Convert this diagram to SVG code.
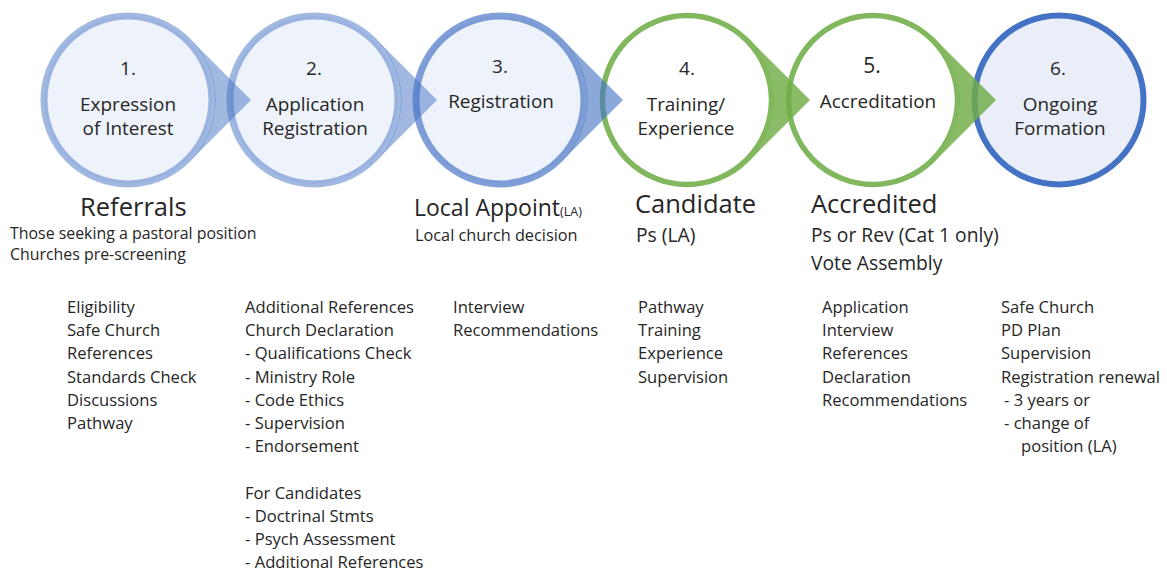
<svg xmlns="http://www.w3.org/2000/svg" width="1167" height="572" viewBox="0 0 1167 572">
<style>
text{font-family:"Open Sans","Noto Sans","Liberation Sans",sans-serif;fill:#262626}
.c{text-anchor:middle;font-size:18.9px}
.num{text-anchor:middle;font-size:19px}
.big{font-size:25.5px}
.sub{font-size:15.9px}
.sub2{font-size:19.3px}
.li{font-size:16.6px}
.ring1{fill:#eef2fa;stroke:#4472c4;stroke-opacity:0.5;stroke-width:7}
.ring3{fill:#eef2fa;stroke:#4472c4;stroke-opacity:0.68;stroke-width:7}
.ringg{fill:#ffffff;stroke:#70ad47;stroke-opacity:0.88;stroke-width:5.5}
.ring6{fill:#e9eef8;stroke:#4472c4;stroke-width:6}
.ab{fill:#4472c4;fill-opacity:0.5}
.ab3{fill:#4472c4;fill-opacity:0.62}
.ag{fill:#70ad47;fill-opacity:0.82}
</style>
<g id="node1">
<circle class="ring1" cx="128" cy="100" r="84"/>
<text class="num" x="128" y="75">1.</text>
<text class="c" x="128" y="111">Expression</text>
<text class="c" x="128" y="135">of Interest</text>
</g>
<g id="node2">
<circle class="ring1" cx="314" cy="100" r="84"/>
<text class="num" x="314" y="75">2.</text>
<text class="c" x="315" y="111">Application</text>
<text class="c" x="315" y="135">Registration</text>
</g>
<g id="node3">
<circle class="ring3" cx="500" cy="100" r="84"/>
<text class="num" x="500" y="73">3.</text>
<text class="c" x="501" y="108">Registration</text>
</g>
<g id="node4">
<circle class="ringg" cx="687" cy="100" r="84.5"/>
<text class="num" x="687" y="75">4.</text>
<text class="c" x="686" y="111">Training/</text>
<text class="c" x="686" y="135">Experience</text>
</g>
<g id="node5">
<circle class="ringg" cx="873" cy="100" r="84.5"/>
<text class="num" x="872" y="73" style="font-size:21px">5.</text>
<text class="c" x="878" y="108">Accreditation</text>
</g>
<g id="node6">
<circle class="ring6" cx="1059" cy="100" r="84.5"/>
<text class="num" x="1058" y="75">6.</text>
<text class="c" x="1060" y="111">Ongoing</text>
<text class="c" x="1060" y="135">Formation</text>
</g>
<g id="connectors">
<path class="ab" d="M189.5,38.5 L251,100 L189.5,161.5 A87,87 0 0 0 189.5,38.5 Z"/>
<path class="ab" d="M375.5,38.5 L437,100 L375.5,161.5 A87,87 0 0 0 375.5,38.5 Z"/>
<path class="ab3" d="M561.5,38.5 L623,100 L561.5,161.5 A87,87 0 0 0 561.5,38.5 Z"/>
<path class="ag" d="M748.5,38.5 L810,100 L748.5,161.5 A87,87 0 0 0 748.5,38.5 Z"/>
<path class="ag" d="M934.5,38.5 L996,100 L934.5,161.5 A87,87 0 0 0 934.5,38.5 Z"/>
</g>
<g id="col1">
<text class="big" x="80" y="216">Referrals</text>
<text class="sub" x="10" y="239">Those seeking a pastoral position</text>
<text class="sub" x="10" y="260">Churches pre-screening</text>
<text class="li" x="67" y="313">Eligibility</text>
<text class="li" x="67" y="336">Safe Church</text>
<text class="li" x="67" y="359">References</text>
<text class="li" x="67" y="383">Standards Check</text>
<text class="li" x="67" y="406">Discussions</text>
<text class="li" x="67" y="429">Pathway</text>
</g>
<g id="col2">
<text class="li" x="245" y="313">Additional References</text>
<text class="li" x="245" y="336">Church Declaration</text>
<text class="li" x="245" y="359">- Qualifications Check</text>
<text class="li" x="245" y="383">- Ministry Role</text>
<text class="li" x="245" y="406">- Code Ethics</text>
<text class="li" x="245" y="429">- Supervision</text>
<text class="li" x="245" y="452">- Endorsement</text>
<text class="li" x="245" y="499">For Candidates</text>
<text class="li" x="245" y="522">- Doctrinal Stmts</text>
<text class="li" x="245" y="545">- Psych Assessment</text>
<text class="li" x="245" y="568">- Additional References</text>
</g>
<g id="col3">
<text class="big" x="414" y="216" style="font-size:23px">Local Appoint<tspan style="font-size:12.5px">(LA)</tspan></text>
<text class="sub" x="415" y="241" style="font-size:16.3px">Local church decision</text>
<text class="li" x="453" y="313">Interview</text>
<text class="li" x="453" y="336">Recommendations</text>
</g>
<g id="col4">
<text class="big" x="635" y="213">Candidate</text>
<text class="sub2" x="636" y="242">Ps (LA)</text>
<text class="li" x="638" y="313">Pathway</text>
<text class="li" x="638" y="336">Training</text>
<text class="li" x="638" y="359">Experience</text>
<text class="li" x="638" y="383">Supervision</text>
</g>
<g id="col5">
<text class="big" x="811" y="213">Accredited</text>
<text class="sub2" x="811" y="242">Ps or Rev (Cat 1 only)</text>
<text class="sub2" x="811" y="270">Vote Assembly</text>
<text class="li" x="822" y="313">Application</text>
<text class="li" x="822" y="336">Interview</text>
<text class="li" x="822" y="359">References</text>
<text class="li" x="822" y="383">Declaration</text>
<text class="li" x="822" y="406">Recommendations</text>
</g>
<g id="col6">
<text class="li" x="1001" y="313">Safe Church</text>
<text class="li" x="1001" y="336">PD Plan</text>
<text class="li" x="1001" y="359">Supervision</text>
<text class="li" x="1001" y="383">Registration renewal</text>
<text class="li" x="1004" y="406">- 3 years or</text>
<text class="li" x="1004" y="429">- change of</text>
<text class="li" x="1021" y="452">position (LA)</text>
</g>
</svg>
